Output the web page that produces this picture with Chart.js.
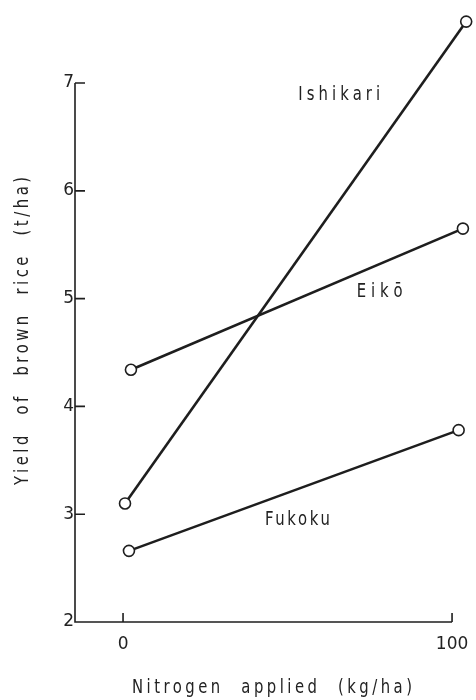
<!DOCTYPE html>
<html>
<head>
<meta charset="utf-8">
<script src="https://cdn.jsdelivr.net/npm/chart.js@4.4.0/dist/chart.umd.min.js"></script>
<style>
  html, body { margin: 0; background: #fff; }
  #wrap { width: 476px; height: 700px; }
</style>
</head>
<body>
<div id="wrap"><canvas id="chart"></canvas></div>
<script>
// values (nitrogen kg/ha, yield t/ha)
const varieties = ['Ishikari', 'Eikō', 'Fukoku'];
const ishikariN = [0.6, 104.3];
const ishikariYield = [3.10, 7.57];
const eikoN = [2.4, 103.3];
const eikoYield = [4.34, 5.65];
const fukokuN = [1.8, 102.0];
const fukokuYield = [2.66, 3.78];
const xTicks = [0, 100];
const yTicks = [2, 3, 4, 5, 6, 7];

const INK = '#1e1e1e';
const TEXT = '#222';
const FONT = '"DejaVu Sans", sans-serif';

// axis lines only run over this span, like on the paper
const X_FROM = -14.6, X_TO = 100;
const Y_FROM = 2, Y_TO = 7;

function pts(xs, ys) {
    return xs.map((x, i) => ({x: x, y: ys[i]}));
}

function lineSet(label, xs, ys) {
    return {
        label: label,
        data: pts(xs, ys),
        showLine: true,
        borderColor: INK,
        borderWidth: 2.6,
        pointRadius: 5.5,
        pointBorderWidth: 1.6,
        pointBackgroundColor: '#fff',
        pointBorderColor: INK,
        clip: false
    };
}

// where the variety names sit, in data units
const nameSpots = [
    {text: varieties[0], x: 65.7, y: 6.89, w: 82},
    {text: varieties[1], x: 78.0, y: 5.06, w: 46},
    {text: varieties[2], x: 53.0, y: 2.95, w: 65}
];

// narrow lettering with a bit of tracking, stretched to the width seen on paper
function fitText(ctx, text, x, y, width, size, rot, gap) {
    const squeeze = 0.78;
    ctx.save();
    ctx.font = size + 'px ' + FONT;
    ctx.fillStyle = TEXT;
    ctx.textAlign = 'center';
    ctx.textBaseline = 'middle';
    ctx.letterSpacing = '0px';
    ctx.wordSpacing = (gap || 0) + 'px';
    const raw = ctx.measureText(text).width * squeeze;
    const sp = Math.max(0, (width - raw) / (text.length - 1)) / squeeze;
    ctx.letterSpacing = sp.toFixed(2) + 'px';
    ctx.translate(x, y);
    if (rot) ctx.rotate(-Math.PI / 2);
    ctx.scale(squeeze, 1);
    ctx.fillText(text, sp / 2, 0);
    ctx.restore();
}

const paperBits = {
    id: 'paperBits',
    beforeDatasetsDraw(chart) {
        const ctx = chart.ctx;
        const xs = chart.scales.x, ys = chart.scales.y;
        const x0 = xs.getPixelForValue(X_FROM), x1 = xs.getPixelForValue(X_TO);
        const y0 = ys.getPixelForValue(Y_FROM), y1 = ys.getPixelForValue(Y_TO);
        ctx.save();
        ctx.strokeStyle = INK;
        ctx.lineWidth = 1.6;
        ctx.beginPath();
        ctx.moveTo(x0, y1);
        ctx.lineTo(x0, y0);
        ctx.lineTo(x1, y0);
        yTicks.forEach(v => {
            const py = ys.getPixelForValue(v);
            ctx.moveTo(x0, py);
            ctx.lineTo(x0 + 10, py);
        });
        xTicks.forEach(v => {
            const px = xs.getPixelForValue(v);
            ctx.moveTo(px, y0);
            ctx.lineTo(px, y0 - 9);
        });
        ctx.stroke();
        ctx.restore();
    },
    afterDraw(chart) {
        const ctx = chart.ctx;
        const xs = chart.scales.x, ys = chart.scales.y;
        nameSpots.forEach(s => {
            fitText(ctx, s.text, xs.getPixelForValue(s.x), ys.getPixelForValue(s.y), s.w, 19, false);
        });
        fitText(ctx, 'Nitrogen applied (kg/ha)', 272, 688, 280, 19, false, 12);
        fitText(ctx, 'Yield of brown rice (t/ha)', 23, 331, 308, 19, true, 12);
    }
};

new Chart(document.getElementById('chart'), {
    type: 'scatter',
    data: {
        datasets: [
            lineSet(varieties[0], ishikariN, ishikariYield),
            lineSet(varieties[1], eikoN, eikoYield),
            lineSet(varieties[2], fukokuN, fukokuYield)
        ]
    },
    options: {
        responsive: true,
        maintainAspectRatio: false,
        animation: false,
        layout: {padding: {top: 13, right: 7.5, left: 0, bottom: 0}},
        plugins: {legend: {display: false}, tooltip: {enabled: false}},
        scales: {
            x: {
                type: 'linear',
                min: X_FROM,
                max: 105,
                afterBuildTicks: s => { s.ticks = xTicks.map(v => ({value: v})); },
                afterFit: s => { s.height = 78; s.paddingLeft = 0; s.paddingRight = 0; },
                grid: {display: false, drawTicks: false, tickLength: 0},
                border: {display: false},
                ticks: {color: TEXT, padding: 12, font: {family: FONT, size: 17}, maxRotation: 0}
            },
            y: {
                type: 'linear',
                min: Y_FROM,
                max: 7.65,
                afterBuildTicks: s => { s.ticks = yTicks.map(v => ({value: v})); },
                afterFit: s => { s.width = 75; s.paddingTop = 0; s.paddingBottom = 0; },
                grid: {display: false, drawTicks: false, tickLength: 0},
                border: {display: false},
                ticks: {color: TEXT, padding: 1, font: {family: FONT, size: 17}}
            }
        }
    },
    plugins: [paperBits]
});
</script>
</body>
</html>
